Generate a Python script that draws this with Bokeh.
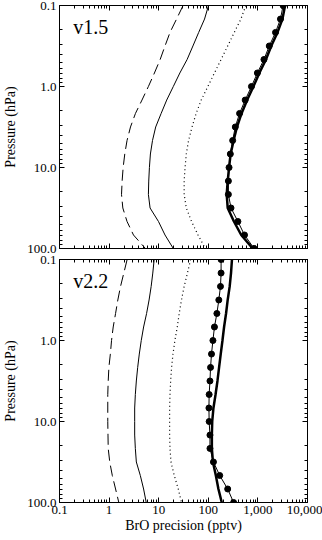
from bokeh.plotting import figure
from bokeh.models import Range1d, FixedTicker, LogAxis, Label
from bokeh.layouts import column
from bokeh.embed import file_html
from bokeh.resources import INLINE

FONT = "Liberation Serif"

# Pressure levels (hPa), 6 per decade
pressure = [0.1, 0.147, 0.215, 0.316, 0.464, 0.681, 1.0, 1.47, 2.15, 3.16,
            4.64, 6.81, 10.0, 14.7, 21.5, 31.6, 46.4, 68.1, 100.0]

# v1.5 panel (BrO precision, pptv)
v15_dashed = [31, 22.9, 16.9, 13.4, 10.7, 8.2, 6.2, 4.6, 3.4, 2.7, 2.3, 2.07,
              1.92, 1.83, 1.78, 1.89, 2.3, 3.1, 5.4]
v15_thin = [101, 84, 64, 49, 37.4, 26.7, 19.7, 14.5, 11.2, 8.7, 7.5, 6.8,
            6.5, 6.3, 6.2, 6.7, 9.9, 13.4, 19.7]
v15_dotted = [571, 454, 334, 246, 181, 133, 98, 72, 57, 47, 40, 36, 34,
              32.6, 32.6, 36, 46, 62, 87]
v15_thick = [3530, 3125, 2483, 1857, 1453, 1070, 812, 607, 468, 378, 324,
             282, 262, 246, 235, 246, 329, 461, 787]
v15_dots = [3221, 2850, 2265, 1694, 1325, 976, 741, 554, 427, 350, 310, 278,
            262, 254, 254, 287, 395, 537, 837]

# v2.2 panel
v22_dashed = [2.31, 1.98, 1.70, 1.50, 1.35, 1.21, 1.12, 1.06, 0.99, 0.96,
              0.94, 0.94, 0.94, 0.95, 0.96, 1.03, 1.16, 1.35, 1.57]
v22_thin = [8.1, 7.6, 7.05, 6.4, 5.7, 4.96, 4.45, 4.06, 3.77, 3.54, 3.38,
            3.28, 3.28, 3.28, 3.38, 3.54, 4.26, 4.96, 5.6]
v22_dotted = [44, 38, 32.6, 28.8, 25.9, 23.7, 21.2, 19.4, 18.2, 17.4, 16.9,
              16.6, 16.6, 16.6, 16.9, 17.7, 20.6, 24.8, 28.8]
v22_thick = [300, 287, 270, 246, 228, 208, 193, 178, 165, 153, 140, 127,
             120, 118, 118, 124, 142, 160, 187]
v22_dots = [181, 181, 176, 163, 149, 133, 124, 116, 111, 108, 104, 103, 104,
            108, 108, 127, 170, 246, 324]

x_ticks = [0.1, 1, 10, 100, 1000, 10000]
x_tick_labels = ["0.1", "1", "10", "100", "1,000", "10,000"]
y_ticks = [0.1, 1, 10, 100]
y_tick_labels = ["0.1", "1.0", "10.0", "100.0"]
x_minor = [m * 10.0 ** e for e in range(-1, 4) for m in range(2, 10)]
y_minor = [m * 10.0 ** e for e in range(-1, 2) for m in range(2, 10)]


def style_axis(ax, ticks, labels, minor, show):
    ax.ticker = FixedTicker(ticks=ticks, minor_ticks=minor)
    if show:
        ax.major_label_overrides = {t: l for t, l in zip(ticks, labels)}
        ax.major_label_standoff = 3
    else:
        ax.major_label_overrides = {t: "" for t in ticks}
        ax.major_label_standoff = 0
    ax.major_label_text_font = FONT
    ax.major_label_text_font_size = "13px"
    ax.major_label_text_color = "black"
    ax.major_tick_in = 5
    ax.major_tick_out = 0
    ax.minor_tick_in = 3
    ax.minor_tick_out = 0
    ax.axis_line_color = "black"
    ax.major_tick_line_color = "black"
    ax.minor_tick_line_color = "black"
    ax.axis_label_text_font = FONT
    ax.axis_label_text_font_size = "14px"
    ax.axis_label_text_font_style = "normal"
    ax.axis_label_text_color = "black"


def make_panel(name, dashed, thin, dotted, thick, dots, height, top, bottom, show_x):
    p = figure(width=322, height=height, x_axis_type="log", y_axis_type="log",
               x_range=Range1d(0.1, 10000), y_range=Range1d(100, 0.1),
               output_backend="svg", toolbar_location=None,
               min_border_left=57, min_border_right=15,
               min_border_top=top, min_border_bottom=bottom)
    p.grid.visible = False
    p.outline_line_color = "black"
    p.background_fill_color = "white"
    p.border_fill_color = "white"

    p.add_layout(LogAxis(), "above")
    p.add_layout(LogAxis(), "right")

    style_axis(p.below[0], x_ticks, x_tick_labels, x_minor, show_x)
    style_axis(p.above[0], x_ticks, x_tick_labels, x_minor, False)
    style_axis(p.left[0], y_ticks, y_tick_labels, y_minor, True)
    style_axis(p.right[0], y_ticks, y_tick_labels, y_minor, False)

    p.left[0].axis_label = "Pressure (hPa)"
    p.left[0].axis_label_standoff = 6
    if show_x:
        p.below[0].axis_label = "BrO precision (pptv)"
        p.below[0].axis_label_standoff = 1

    p.line(dashed, pressure, line_color="black", line_width=1, line_dash="11 5")
    p.line(thin, pressure, line_color="black", line_width=1)
    p.line(dotted, pressure, line_color="black", line_width=1.2, line_dash="1 3")
    p.line(thick, pressure, line_color="black", line_width=2.5)
    p.line(dots, pressure, line_color="black", line_width=1)
    p.scatter(dots, pressure, marker="circle", size=6,
              fill_color="black", line_color="black")

    p.add_layout(Label(x=0.19, y=0.185, text=name, text_font=FONT,
                       text_font_size="20px", text_color="black",
                       text_baseline="alphabetic"))
    return p


p1 = make_panel("v1.5", v15_dashed, v15_thin, v15_dotted, v15_thick, v15_dots,
                253, 5, 5, False)
p2 = make_panel("v2.2", v22_dashed, v22_thin, v22_dotted, v22_thick, v22_dots,
                287, 6, 38, True)

layout = column(p1, p2)
open("out.html", "w").write(file_html(layout, INLINE))
